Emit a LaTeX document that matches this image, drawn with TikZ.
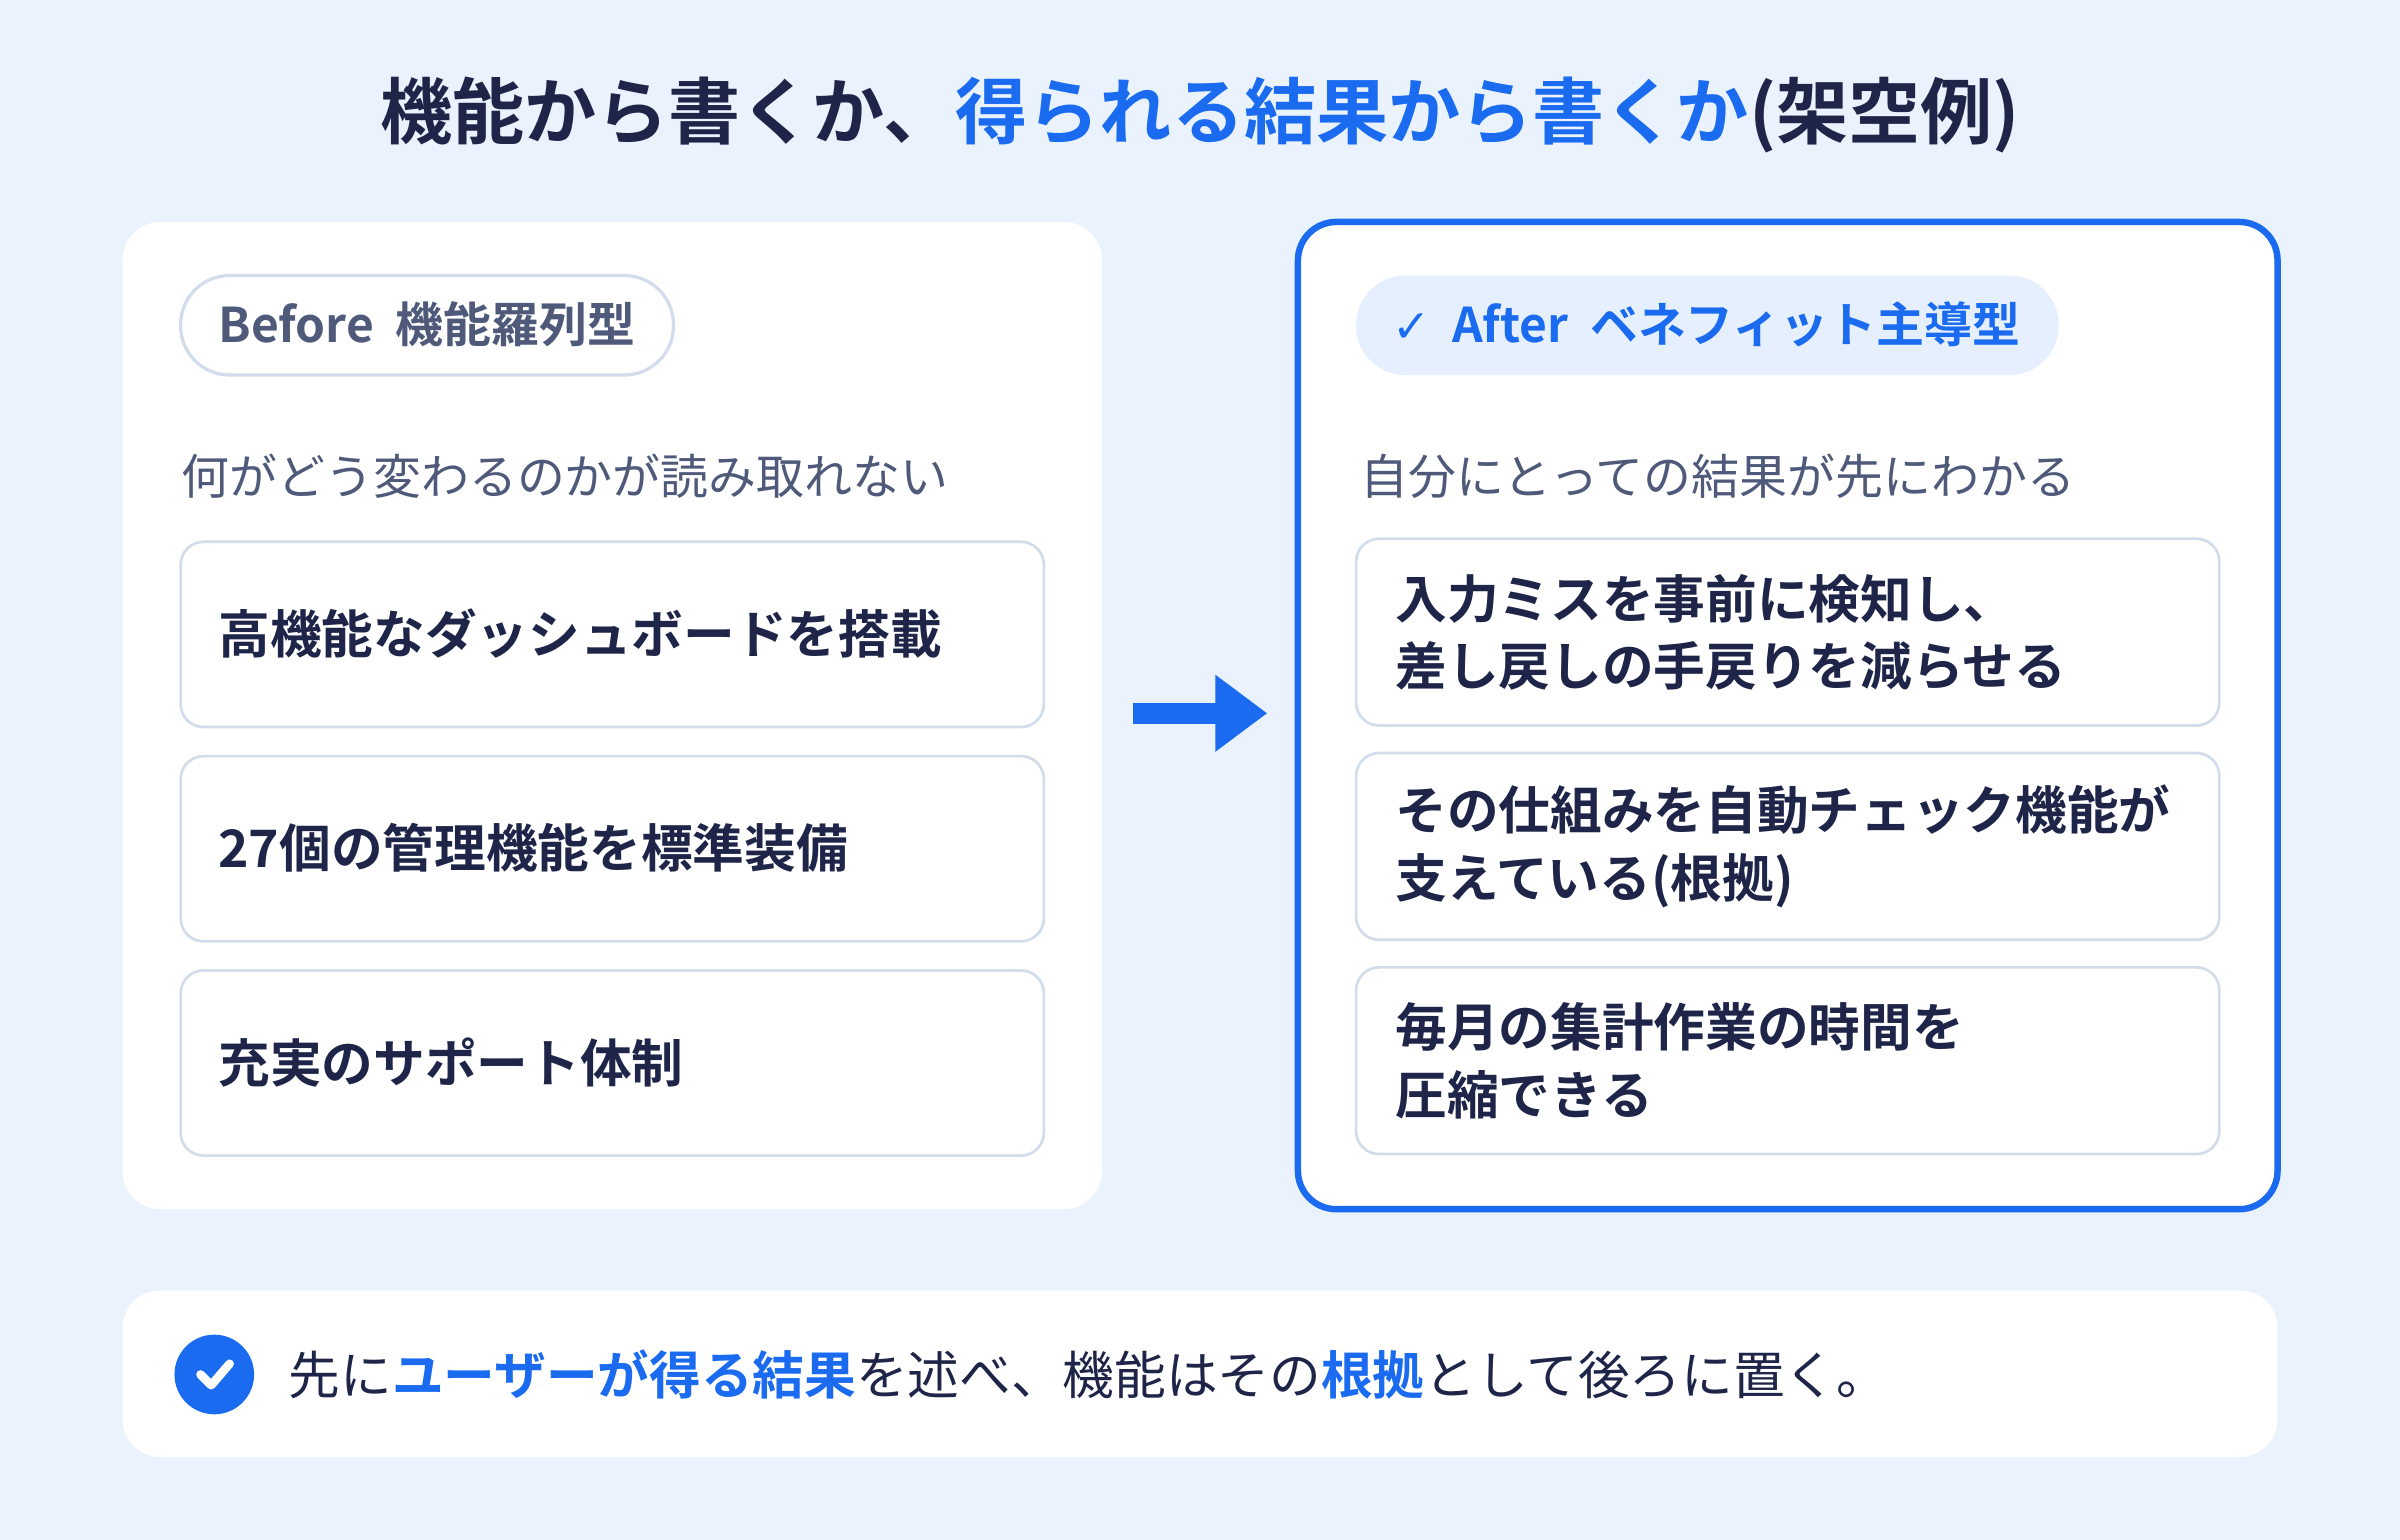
\documentclass[tikz,border=0pt]{standalone}
\usepackage{fontspec}
\setmainfont{Noto Sans CJK JP}
\newfontfamily\jpb{Noto Sans CJK JP}[BoldFont={* Bold}]
\newfontfamily\symf{DejaVu Sans}
\usetikzlibrary{positioning,arrows.meta,backgrounds}
\definecolor{bgblue}{HTML}{EAF2FD}
\definecolor{navy}{HTML}{1E2548}
\definecolor{slate}{HTML}{4F5A7A}
\definecolor{accent}{HTML}{1A6BF0}
\definecolor{edge}{HTML}{D3DCEB}
\definecolor{pillbg}{HTML}{E6EFFD}
\tikzset{
  card/.style={fill=white,rounded corners=0.25cm},
  item/.style={draw=edge,fill=white,rounded corners=0.15cm,line width=0.5pt},
  itemtext/.style={anchor=west,navy,font=\jpb\bfseries\fontsize{9.6}{12.5}\selectfont,align=left,inner sep=0pt},
  subtext/.style={anchor=west,slate,font=\jpb\fontsize{8.9}{10}\selectfont,inner sep=0pt}
}
\begin{document}
\begin{tikzpicture}[x=0.01cm,y=-0.01cm]
	\fill[bgblue] (0,0) rectangle (1568,1006);
	\useasboundingbox (0,0) rectangle (1568,1006);

	% title
	\node[font=\jpb\bfseries\fontsize{13.4}{14}\selectfont,navy] (title) at (784,75)
	  {機能から書くか、\textcolor{accent}{得られる結果から書くか}(架空例)};

	% left card
	\fill[card] (80,145) rectangle (720,790);
	\draw[draw=edge,fill=white,rounded corners=0.32cm,line width=0.6pt] (118,180) rectangle (440,245);
	\node[anchor=west,slate,font=\jpb\bfseries\fontsize{8.9}{11}\selectfont,inner sep=0pt] (before) at (142,212) {Before\ \ 機能羅列型};
	\node[subtext] (lsub) at (118,311) {何がどう変わるのかが読み取れない};
	\foreach \y/\t [count=\i] in {354/高機能なダッシュボードを搭載,494/27個の管理機能を標準装備,634/充実のサポート体制}{
	  \draw[item] (118,\y) rectangle (682,\y+121);
	  \node[itemtext] (l\i) at (142,\y+60) {\t};
	}

	% arrow
	\coordinate (afrom) at (740,466);
	\coordinate (ato) at (828,466);
	\draw[accent,line width=0.14cm,-{Triangle[length=0.34cm,width=0.48cm]}] (afrom) -- (ato);

	% right card
	\draw[card,draw=accent,line width=1.2pt] (848,145) rectangle (1488,790);
	\fill[pillbg,rounded corners=0.32cm] (886,180) rectangle (1345,245);
	\node[anchor=west,accent,font=\jpb\bfseries\fontsize{8.9}{11}\selectfont,inner sep=0pt] (after) at (909,212) {{\symf\bfseries\fontsize{8.5}{9}\selectfont ✓}\ \ After\ \ ベネフィット主導型};
	\node[subtext] (rsub) at (888,311) {自分にとっての結果が先にわかる};
	\foreach \y/\t [count=\i] in {352/{入力ミスを事前に検知し、\\差し戻しの手戻りを減らせる},492/{その仕組みを自動チェック機能が\\支えている(根拠)},632/{毎月の集計作業の時間を\\圧縮できる}}{
	  \draw[item] (886,\y) rectangle (1450,\y+122);
	  \node[itemtext] (r\i) at (911,\y+61) {\t};
	}

	% bottom note
	\fill[card] (80,843) rectangle (1488,952);
	\node[circle,fill=accent,minimum size=0.52cm,inner sep=0pt] (tick) at (140,898) {};
	\draw[white,line width=1.6pt,line cap=round,line join=round] ([shift={(-9,0)}]tick.center) -- ([shift={(-2,7)}]tick.center) -- ([shift={(10,-7)}]tick.center);
	\node[anchor=west,navy,font=\jpb\fontsize{9.6}{11}\selectfont,inner sep=0pt] (note) at (188,898)
	  {先に\textcolor{accent}{\bfseries ユーザーが得る結果}を述べ、機能はその\textcolor{accent}{\bfseries 根拠}として後ろに置く。};
\end{tikzpicture}
\end{document}
